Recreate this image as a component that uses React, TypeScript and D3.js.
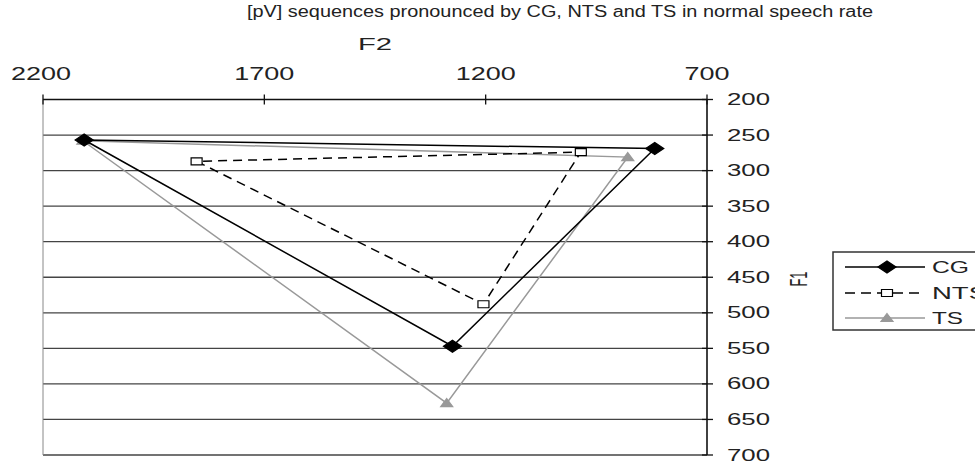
import React from "react";
import * as d3 from "d3";

const title = "[pV] sequences pronounced by CG, NTS and TS in normal speech rate";
const xTicks = [2200, 1700, 1200, 700];
const yTicks = [200, 250, 300, 350, 400, 450, 500, 550, 600, 650, 700];
const seriesNames = ["CG", "NTS", "TS"];
// points in order i, a, u, i (closing the triangle)
const cgF2 = [2107, 1275, 818, 2107];
const cgF1 = [257, 547, 269, 257];
const ntsF2 = [1853, 1205, 985, 1853];
const ntsF1 = [287, 488, 274, 287];
const tsF2 = [2110, 1288, 879, 2110];
const tsF1 = [258, 627, 281, 258];

const W = 975, H = 463;
const FONT = "'Liberation Sans', Arial, sans-serif";

const styles: Record<string, { stroke: string; dash?: string; marker: string; fill: string; mstroke: string }> = {
  CG: { stroke: "#000", marker: "M0,-6L9,0L0,6L-9,0Z", fill: "#000", mstroke: "#000" },
  NTS: { stroke: "#000", dash: "9,6", marker: "M-5.5,-3.5H5.5V3.5H-5.5Z", fill: "#fff", mstroke: "#000" },
  TS: { stroke: "#999", marker: "M0,-4.5L6,3.5L-6,3.5Z", fill: "#999", mstroke: "#999" },
};

export default function App() {
  const x = d3.scaleLinear().domain([2200, 700]).range([43, 707]);
  const y = d3.scaleLinear().domain([200, 700]).range([99.5, 455]);
  const data: Record<string, [number, number][]> = {
    CG: cgF2.map((v, i) => [v, cgF1[i]]),
    NTS: ntsF2.map((v, i) => [v, ntsF1[i]]),
    TS: tsF2.map((v, i) => [v, tsF1[i]]),
  };
  const line = d3.line<[number, number]>().x((d) => x(d[0])).y((d) => y(d[1]));
  const drawOrder = ["TS", "NTS", "CG"];
  const legendRows = [267, 293, 318];

  return (
    <svg width={W} height={H} style={{ position: "absolute", left: 0, top: 0, background: "#fff" }} fontFamily={FONT}>
      <rect x={0} y={0} width={W} height={H} fill="#fff" />
      <text x={560} y={17} fontSize={16} textAnchor="middle" fill="#222" textLength={626} lengthAdjust="spacingAndGlyphs">{title}</text>
      <text x={375} y={50} fontSize={16} textAnchor="middle" fill="#222" textLength={34} lengthAdjust="spacingAndGlyphs">F2</text>
      {/* gridlines */}
      {yTicks.slice(1).map((t) => (
        <line key={t} x1={x(2200)} x2={x(700)} y1={y(t)} y2={y(t)} stroke="#444" strokeWidth={1.3} />
      ))}
      <line x1={x(2200)} x2={x(2200)} y1={y(200)} y2={y(700)} stroke="#888" strokeWidth={1} />
      {/* top axis */}
      <line x1={x(2200)} x2={x(700)} y1={y(200)} y2={y(200)} stroke="#111" strokeWidth={1.5} />
      {xTicks.map((t) => (
        <g key={t}>
          <line x1={x(t)} x2={x(t)} y1={y(200) - 5} y2={y(200) + 5} stroke="#111" strokeWidth={1.3} />
          <text x={x(t) - (t === 2200 ? 2 : 0)} y={80} fontSize={18} textAnchor="middle" fill="#222"
            textLength={String(t).length === 4 ? 60 : 45} lengthAdjust="spacingAndGlyphs">{t}</text>
        </g>
      ))}
      {/* right axis */}
      <line x1={x(700)} x2={x(700)} y1={y(200)} y2={y(700)} stroke="#111" strokeWidth={1.6} />
      {yTicks.map((t) => (
        <g key={t}>
          <line x1={x(700) - 5} x2={x(700) + 6} y1={y(t)} y2={y(t)} stroke="#111" strokeWidth={1.3} />
          <text x={727} y={y(t) + 5.5} fontSize={16.5} fill="#222" textLength={43} lengthAdjust="spacingAndGlyphs">{t}</text>
        </g>
      ))}
      <text transform="translate(807,279) rotate(-90) scale(1,1.45)" fontSize={16} textAnchor="middle" fill="#222"
        textLength={15} lengthAdjust="spacingAndGlyphs">F1</text>
      {/* series */}
      {drawOrder.map((name) => {
        const s = styles[name];
        return (
          <g key={name}>
            <path d={line(data[name]) || ""} fill="none" stroke={s.stroke} strokeWidth={1.5} strokeDasharray={s.dash} />
            {data[name].slice(0, 3).map((d, i) => (
              <path key={i} d={s.marker} transform={`translate(${x(d[0])},${y(d[1])})`} fill={s.fill} stroke={s.mstroke} strokeWidth={1.2} />
            ))}
          </g>
        );
      })}
      {/* legend */}
      <rect x={833} y={252} width={160} height={78} fill="#fff" stroke="#333" strokeWidth={1.5} />
      {seriesNames.map((name, i) => {
        const s = styles[name];
        const yy = legendRows[i];
        return (
          <g key={name}>
            <line x1={845} x2={925} y1={yy} y2={yy} stroke={s.stroke} strokeWidth={1.5} strokeDasharray={s.dash ? "10,6" : undefined} />
            <path d={s.marker} transform={`translate(887,${yy})`} fill={s.fill} stroke={s.mstroke} strokeWidth={1.2} />
            <text x={932} y={yy + 6} fontSize={17} fill="#222" textLength={name.length === 2 ? (name === "CG" ? 37 : 31) : 55} lengthAdjust="spacingAndGlyphs">{name}</text>
          </g>
        );
      })}
    </svg>
  );
}
